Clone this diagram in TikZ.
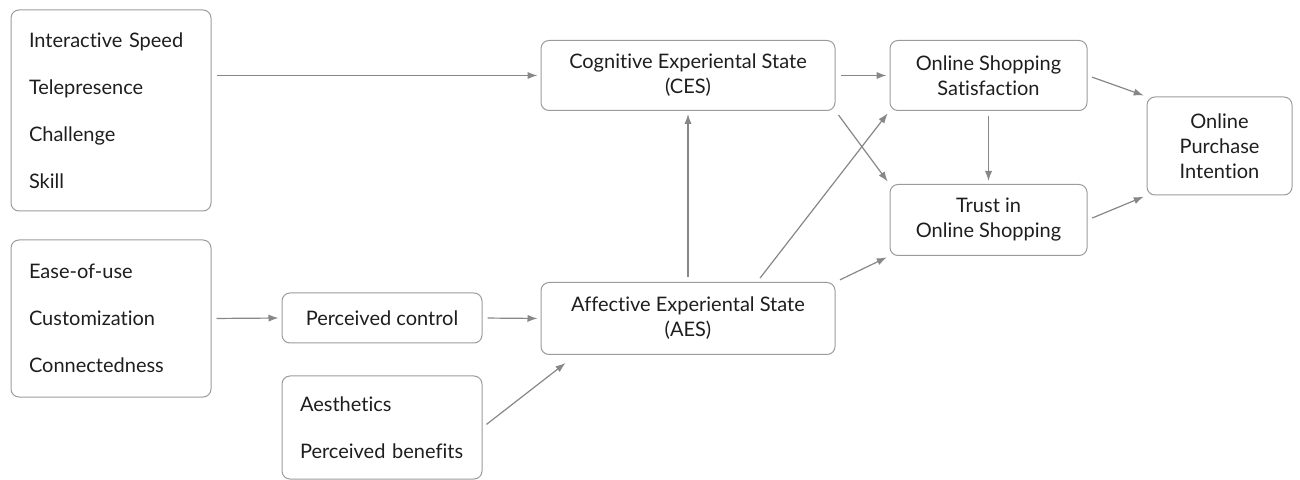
\documentclass[tikz,border=0pt]{standalone}
\usepackage{fontspec}
\setmainfont[Ligatures={NoCommon}]{Lato}
\usetikzlibrary{arrows.meta}
\tikzset{>={Latex[length=5pt,width=3.6pt]}}
\definecolor{boxgray}{RGB}{155,155,155}
\definecolor{arrgray}{RGB}{135,135,135}
\definecolor{txtgray}{RGB}{30,30,30}
\tikzset{
    box/.style={draw=boxgray, line width=0.5pt, rounded corners=4pt, text=txtgray,
        align=center, inner sep=0pt, font=\fontsize{10}{12.5}\selectfont},
    listbox/.style={box, align=left, inner xsep=9pt, text width=82pt,
        font=\fontsize{10}{23.5}\selectfont},
    link/.style={->, draw=arrgray, line width=0.6pt, shorten >=1.5pt, shorten <=2.5pt},
}

\begin{document}
\begin{tikzpicture}[x=0.5pt, y=-0.5pt]
    \useasboundingbox (0,0) rectangle (1300,480);
    % antecedents
    \node[listbox, minimum height=100.5pt](flow) at (111,110.5){Interactive Speed\\Telepresence\\Challenge\\Skill};
    \node[listbox, minimum height=78.5pt](ease) at (111,318.5){Ease-of-use\\Customization\\Connectedness};
    \node[box, minimum width=100pt, minimum height=25pt](pc) at (382,318){Perceived control};
    \node[listbox, minimum height=51.5pt](look) at (382,427.5){Aesthetics\\Perceived benefits};
    % states and outcomes
    \node[box, minimum width=147pt, minimum height=35pt](ces) at (688,75.5){Cognitive Experiental State\\(CES)};
    \node[box, minimum width=147pt, minimum height=36pt](aes) at (688,318.5){Affective Experiental State\\(AES)};
    \node[box, minimum width=98.5pt, minimum height=35pt](oss) at (988.5,75.5){Online Shopping\\Satisfaction};
    \node[box, minimum width=98.5pt, minimum height=35.5pt](trust) at (988.5,220){Trust in\\Online Shopping};
    \node[box, minimum width=72.5pt, minimum height=49pt](opi) at (1219.5,146){Online\\Purchase\\Intention};

    \draw[link](flow.east |- ces.west)--(ces.west);
    \draw[link](ces.east)--(oss.west);
    \draw[link](ces.south east)--(trust.north west);
    \draw[link](aes.north)--(ces.south);
    \draw[link]([xshift=34.5pt]aes.north)--(oss.south west);
    \draw[link](aes.north east)--(trust.south west);
    \draw[link](oss.south)--(trust.north);
    \draw[link](oss.east)--(opi.north west);
    \draw[link](trust.east)--(opi.south west);
    \draw[link](ease.east)--(pc.west);
    \draw[link](pc.east)--(aes.west);
    \draw[link, shorten >=0pt](look.east)--([xshift=12.5pt, yshift=-4pt]aes.south west);
\end{tikzpicture}
\end{document}
